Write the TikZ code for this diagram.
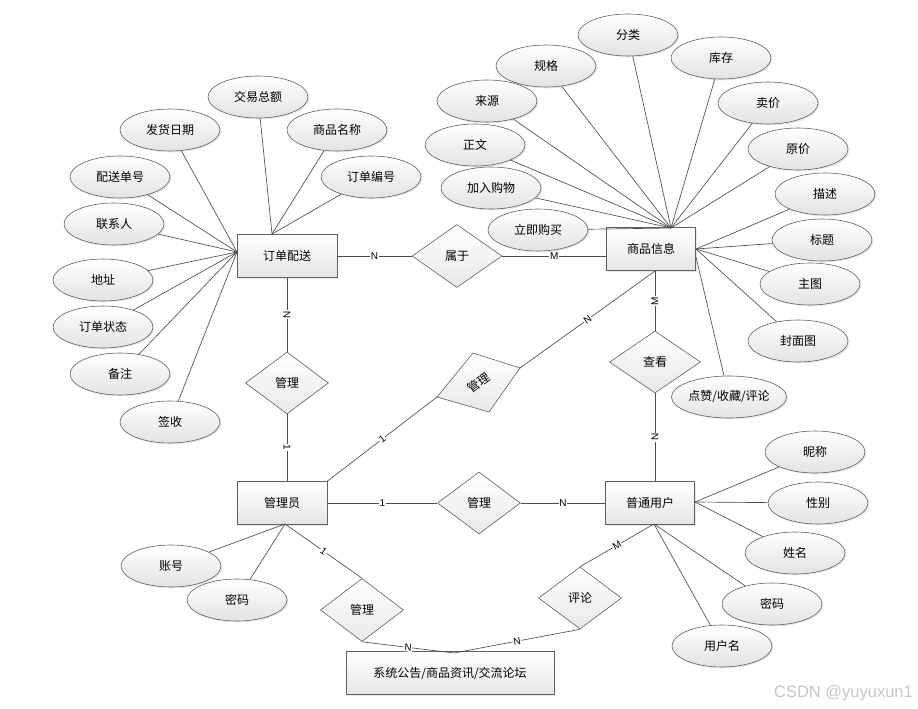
\documentclass[tikz,border=0pt]{standalone}
\usepackage{fontspec}
\setmainfont{Liberation Sans}
\newfontfamily\cjk{Noto Sans CJK SC}
\usetikzlibrary{shapes.geometric,shadows,calc}
\begin{document}
\begin{tikzpicture}[x=1pt,y=-1pt,
 every node/.style={font=\cjk\fontsize{12}{14}\selectfont},
 shd/.style={drop shadow={shadow xshift=1.3pt,shadow yshift=-1.3pt,fill=gray!35}},
 attr/.style={ellipse,draw=gray!75!black,line width=0.6pt,top color=white,bottom color=gray!22,minimum width=100pt,minimum height=42pt,inner sep=0pt,shd},
 ent/.style={rectangle,draw=gray!75!black,line width=0.8pt,top color=white,bottom color=gray!20,minimum height=43pt,inner sep=0pt,shd},
 rel/.style={diamond,draw=gray!75!black,line width=0.6pt,top color=white,bottom color=gray!18,minimum width=83pt,minimum height=62pt,inner sep=0pt},
 conn/.style={draw=black!70,line width=0.65pt},
 card/.style={fill=white,inner sep=0.8pt,font=\rmfamily\fontsize{10}{11}\selectfont}
]
\useasboundingbox (0,0) rectangle (918,709);

% entities
\node[ent,minimum width=100pt] (od) at (287,256) {订单配送};
\node[ent,minimum width=89pt] (gi) at (651,249) {商品信息};
\node[ent,minimum width=90pt] (adm) at (282,503) {管理员};
\node[ent,minimum width=89pt] (usr) at (650,503) {普通用户};
\node[ent,minimum width=208pt] (sys) at (450,673) {系统公告/商品资讯/交流论坛};

% hubs
\coordinate (odL) at (237,252);
\coordinate (odT) at (272,234);
\coordinate (giT) at (671,228);
\coordinate (giR) at (696,249);
\coordinate (giR2) at (696,257);
\coordinate (giB) at (655,271);
\coordinate (admB) at (285,524);
\coordinate (usrR) at (695,502);
\coordinate (usrB) at (654,524);
\coordinate (sysT) at (454,653);

% order attributes
\node[attr] (a1) at (258,97) {交易总额};
\node[attr] (a2) at (170,130) {发货日期};
\node[attr] (a3) at (337,130) {商品名称};
\node[attr] (a4) at (371,177) {订单编号};
\node[attr] (a5) at (120,177) {配送单号};
\node[attr] (a6) at (114,224) {联系人};
\node[attr] (a7) at (103,280) {地址};
\node[attr] (a8) at (103,327) {订单状态};
\node[attr] (a9) at (120,374) {备注};
\node[attr] (a10) at (170,422) {签收};
\foreach \n in {a1,a3,a4} \draw[conn] (\n) -- (odT);
\foreach \n in {a2,a5,a6,a7,a8,a9,a10} \draw[conn] (\n) -- (odL);

% goods attributes
\node[attr] (b1) at (628,35) {分类};
\node[attr] (b2) at (546,66) {规格};
\node[attr] (b3) at (721,58) {库存};
\node[attr] (b4) at (487,101) {来源};
\node[attr] (b5) at (768,103) {卖价};
\node[attr] (b6) at (475,145) {正文};
\node[attr] (b7) at (798,149) {原价};
\node[attr] (b8) at (491,188) {加入购物};
\node[attr] (b9) at (825,194) {描述};
\node[attr] (b11) at (822,240) {标题};
\node[attr] (b12) at (810,284) {主图};
\node[attr] (b13) at (798,341) {封面图};
\node[attr] (b14) at (729,397) {点赞/收藏/评论};
\foreach \n in {b1,b2,b3,b4,b5,b6,b7,b8} \draw[conn] (\n) -- (giT);
\foreach \n in {b9,b11,b12,b13} \draw[conn] (\n) -- (giR);
\draw[conn] (b14) -- (giR2);
\node[attr] (b10) at (538,230) {立即购买};
\draw[conn] (b10) -- (giT);

% admin attributes
\node[attr] (c1) at (171,566) {账号};
\node[attr] (c2) at (237,600) {密码};
\foreach \n in {c1,c2} \draw[conn] (\n) -- (admB);

% user attributes
\node[attr] (d1) at (815,452) {昵称};
\node[attr] (d2) at (818,503) {性别};
\node[attr] (d3) at (795,553) {姓名};
\node[attr] (d4) at (772,604) {密码};
\node[attr] (d5) at (722,646) {用户名};
\foreach \n in {d1,d2,d3} \draw[conn] (\n) -- (usrR);
\foreach \n in {d4,d5} \draw[conn] (\n) -- (usrB);

% relationships
\node[rel,minimum width=90pt,minimum height=63pt] (bel) at (457,256) {属于};
\node[rel] (m1) at (287,383) {管理};
\node[rel,minimum width=91pt] (look) at (655,362) {查看};
\node[rel] (m3) at (479,503) {管理};
\node[rel,minimum height=63pt] (m4) at (362,610) {管理};
\node[rel] (cmt) at (580,598) {评论};
\coordinate (m2L) at (437,397);
\coordinate (m2T) at (473,353);
\coordinate (m2R) at (520,368);
\coordinate (m2B) at (489,412);
\shadedraw[draw=gray!75!black,line width=0.6pt,top color=white,bottom color=gray!18] (m2L) -- (m2T) -- (m2R) -- (m2B) -- cycle;
\node[rotate=35] (m2) at (479,383) {管理};

% connectors with cardinalities
\draw[conn] (od.east) -- node[card]{N} (bel.west);
\draw[conn] (bel.east) -- node[card]{M} (bel.east -| gi.west);
\draw[conn] (od.south) -- node[card,rotate=90]{N} (m1.north);
\draw[conn] (m1.south) -- node[card,rotate=-90]{1} (m1.south |- adm.north);
\draw[conn] (adm.north east) -- node[card,sloped]{1} (m2L);
\draw[conn] (m2R) -- node[card,sloped]{N} (giB);
\draw[conn] (giB) -- node[card,rotate=90]{M} (look.north);
\draw[conn] (look.south) -- node[card,rotate=90]{N} (look.south |- usr.north);
\draw[conn] (adm.east) -- node[card]{1} (m3.west);
\draw[conn] (m3.east) -- node[card]{N} (usr.west);
\draw[conn] (admB) -- node[card,sloped]{1} (m4.north);
\draw[conn] (cmt.north) -- node[card,sloped]{M} (usrB);
\draw[conn] (m4.south) -- node[card,sloped]{N} (sysT);
\draw[conn] (sysT) -- node[card,sloped]{N} (cmt.south);

% watermark
\node[font=\rmfamily\fontsize{16.5}{18}\selectfont,text=gray!45,anchor=east,inner sep=0pt] (wm) at (913,693) {CSDN @yuyuxun1};
\end{tikzpicture}
\end{document}
